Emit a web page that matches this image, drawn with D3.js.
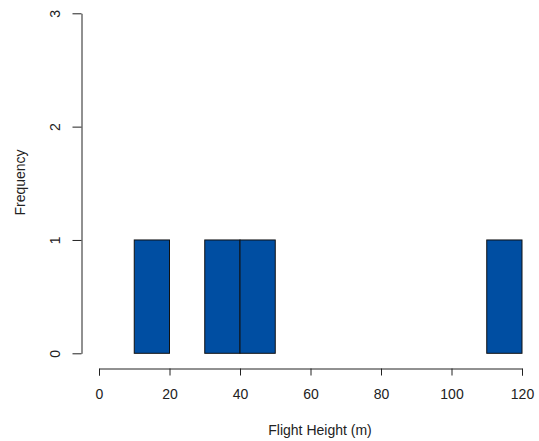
<!DOCTYPE html>
<html>
<head>
<meta charset="utf-8">
<script src="https://cdn.jsdelivr.net/npm/d3@7"></script>
<style>
  html, body { margin: 0; padding: 0; background: #fff; }
  svg { display: block; font-family: "Liberation Sans", Arial, sans-serif; }
</style>
</head>
<body>
<svg id="chart" width="539" height="441"></svg>
<script>
// Histogram of flight heights, 10 m bins
const binStarts = [10, 20, 30, 40, 50, 60, 70, 80, 90, 100, 110];
const binWidth = 10;
const counts = [1, 0, 1, 1, 0, 0, 0, 0, 0, 0, 1];
const xTicks = [0, 20, 40, 60, 80, 100, 120];
const yTicks = [0, 1, 2, 3];
const xLabel = "Flight Height (m)";
const yLabel = "Frequency";

const fontSize = 14;
const ink = "#222";

const svg = d3.select("#chart");
const x = d3.scaleLinear().domain([0, 120]).range([99, 522]);
const y = d3.scaleLinear().domain([0, 3]).range([353.3, 13.3]);

// Bars (empty bins collapse to a flat line on the baseline)
svg.append("g")
  .selectAll("rect")
  .data(binStarts.map((s, i) => ({ x0: s, x1: s + binWidth, n: counts[i] })))
  .join("rect")
  .attr("x", d => x(d.x0))
  .attr("width", d => x(d.x1) - x(d.x0))
  .attr("y", d => y(d.n))
  .attr("height", d => y(0) - y(d.n))
  .attr("fill", "#004ea2")
  .attr("stroke", "#111")
  .attr("stroke-width", 1);

// X axis
const xAxis = svg.append("g")
  .attr("transform", "translate(0,368.5)")
  .call(d3.axisBottom(x).tickValues(xTicks).tickSize(7).tickPadding(14).tickFormat(d3.format("d")));
xAxis.select(".domain").attr("stroke", ink);
xAxis.selectAll(".tick line").attr("stroke", ink);
xAxis.selectAll("text").attr("font-size", fontSize).attr("fill", ink)
  .attr("font-family", "Liberation Sans, Arial, sans-serif");

// Y axis with rotated labels
const yAxis = svg.append("g")
  .attr("transform", "translate(81.5,0)")
  .call(d3.axisLeft(y).tickValues(yTicks).tickSize(9).tickSizeOuter(0).tickFormat(d3.format("d")));
yAxis.select(".domain").attr("stroke", ink);
yAxis.selectAll(".tick line").attr("stroke", ink);
yAxis.selectAll("text")
  .attr("font-size", fontSize).attr("fill", ink)
  .attr("font-family", "Liberation Sans, Arial, sans-serif")
  .attr("x", null)
  .attr("text-anchor", "middle")
  .attr("transform", "translate(-26,0) rotate(-90)")
  .attr("dy", "0.35em");

// Axis titles
svg.append("text")
  .attr("x", 320)
  .attr("y", 435)
  .attr("text-anchor", "middle")
  .attr("font-size", fontSize).attr("fill", ink)
  .text(xLabel);

svg.append("text")
  .attr("transform", "translate(25,182.5) rotate(-90)")
  .attr("text-anchor", "middle")
  .attr("font-size", fontSize).attr("fill", ink)
  .text(yLabel);
</script>
</body>
</html>
